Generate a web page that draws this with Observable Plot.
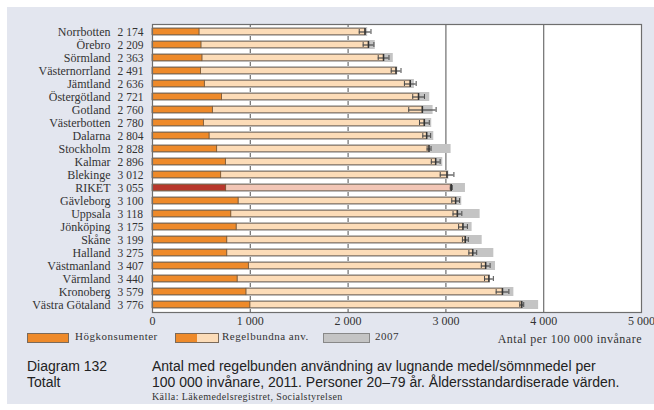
<!DOCTYPE html>
<html><head><meta charset="utf-8">
<script src="https://cdn.jsdelivr.net/npm/d3@7"></script>
<script src="https://cdn.jsdelivr.net/npm/@observablehq/plot@0.6"></script>
<style>
html,body{margin:0;padding:0;background:#fff;width:654px;height:410px;overflow:hidden;}
#panel{position:absolute;left:7px;top:7px;width:647px;height:397px;background:#e3e6ef;}
#chart{position:absolute;left:0;top:0;}
.serif{font-family:"Liberation Serif","DejaVu Serif",serif;color:#333;}
.sans{font-family:"Liberation Sans",Arial,sans-serif;color:#222;}
.abs{position:absolute;white-space:nowrap;}
.sw{position:absolute;height:8px;border:1px solid #7a6a5a;}
</style></head>
<body>
<div id="panel"></div>
<div id="chart"></div>
<div class="sw" style="left:27px;top:333px;width:40px;background:#ee8a2a"></div>
<div class="abs serif" style="left:75px;top:330px;font-size:11px;letter-spacing:0.5px">Högkonsumenter</div>
<div class="sw" style="left:175px;top:333px;width:21px;background:#ee8a2a;border-right:none"></div>
<div class="sw" style="left:197px;top:333px;width:21px;background:#fcdcb8;border-left:none"></div>
<div class="abs serif" style="left:222px;top:330px;font-size:11px;letter-spacing:0.5px">Regelbundna anv.</div>
<div class="sw" style="left:323px;top:333px;width:45px;background:#c4c4c4;border-color:#888"></div>
<div class="abs serif" style="left:375px;top:330px;font-size:11px;letter-spacing:0.5px">2007</div>
<div class="abs serif" style="right:12px;top:332px;font-size:12px;letter-spacing:0.5px">Antal per 100 000 invånare</div>
<div class="abs sans" style="left:27px;top:358px;font-size:14px;line-height:16px">Diagram 132<br>Totalt</div>
<div class="abs sans" style="left:152px;top:358px;font-size:14px;line-height:16px">Antal med regelbunden användning av lugnande medel/sömnmedel per<br>100 000 invånare, 2011. Personer 20–79 år. Åldersstandardiserade värden.</div>
<div class="abs serif" style="left:152px;top:391px;font-size:10px;letter-spacing:0.4px">Källa: Läkemedelsregistret, Socialstyrelsen</div>
<script>
const regions = ["Norrbotten","Örebro","Sörmland","Västernorrland","Jämtland","Östergötland","Gotland","Västerbotten","Dalarna","Stockholm","Kalmar","Blekinge","RIKET","Gävleborg","Uppsala","Jönköping","Skåne","Halland","Västmanland","Värmland","Kronoberg","Västra Götaland"];
const totals = [2174,2209,2363,2491,2636,2721,2760,2780,2804,2828,2896,3012,3055,3100,3118,3175,3199,3275,3407,3440,3579,3776];
const hogkonsumenter = [480,500,510,495,535,710,617,525,583,661,750,702,753,880,805,860,764,764,985,870,960,1000];
const values2007 = [2200,2278,2462,2507,2678,2835,2869,2855,2876,3053,2968,3030,3200,3162,3350,3268,3371,3490,3507,3455,3695,3948];
const ciHalfWidth = [60,55,55,50,60,60,140,50,40,20,45,70,10,40,45,45,30,40,45,45,65,20];
const xTicks = [0,1000,2000,3000,4000,5000];
const gridTicks = [1000,2000,3000,4000];

const fmt = n => String(n).replace(/\B(?=(\d{3})+(?!\d))/g, " ");
const rows = regions.map((r,i)=>({region:r,total:totals[i],hog:hogkonsumenter[i],v2007:values2007[i],lo:totals[i]-ciHalfWidth[i],hi:totals[i]+ciHalfWidth[i],riket:r==="RIKET"}));
const serif = "Liberation Serif, DejaVu Serif, serif";

const plot = Plot.plot({
  width:654, height:333,
  marginLeft:152, marginRight:13, marginTop:24, marginBottom:21,
  style:{background:"transparent", fontFamily:serif, fontSize:"11px", color:"#333", overflow:"visible"},
  x:{domain:[0,5000], label:null},
  y:{domain:regions, padding:0, axis:null},
  marks:[
    Plot.frame({fill:"#fff"}),
    Plot.ruleX(gridTicks,{stroke:"#6e6e6e",strokeWidth:1.2}),
    Plot.barX(rows,{x:"v2007",y:"region",fill:"#c4c4c4",insetTop:2,insetBottom:2}),
    Plot.barX(rows,{x1:"hog",x2:"total",y:"region",fill:d=>d.riket?"#f2c6b6":"#fcdcb8",stroke:"#7a6a5a",strokeWidth:0.8,insetTop:3.3,insetBottom:3.3}),
    Plot.barX(rows,{x1:0,x2:"hog",y:"region",fill:d=>d.riket?"#b8372c":"#ee8a2a",stroke:"#7a5a3a",strokeWidth:0.8,insetTop:3.3,insetBottom:3.3}),
    Plot.ruleY(rows,{x1:"lo",x2:"hi",y:"region",stroke:"#4a4a4a",strokeWidth:1.2}),
    Plot.tickX(rows,{x:"lo",y:"region",stroke:"#4a4a4a",insetTop:4,insetBottom:4}),
    Plot.tickX(rows,{x:"hi",y:"region",stroke:"#4a4a4a",insetTop:4,insetBottom:4}),
    Plot.tickX(rows,{x:"total",y:"region",stroke:"#333",strokeWidth:1.4,insetTop:3,insetBottom:3}),
    Plot.frame({stroke:"#6e6e6e",strokeWidth:1.2}),
    Plot.axisX(xTicks,{tickFormat:fmt,tickSize:0,tickPadding:4,fontSize:12,fontFamily:serif,fill:"#333",label:null}),
    Plot.text(rows,{y:"region",text:"region",frameAnchor:"left",dx:-42,textAnchor:"end",fontSize:12,fill:"#333"}),
    Plot.text(rows,{y:"region",text:d=>fmt(d.total),frameAnchor:"left",dx:-35,textAnchor:"start",fontSize:11.5,fill:"#333"})
  ]
});
document.getElementById("chart").appendChild(plot);
</script>
</body></html>
